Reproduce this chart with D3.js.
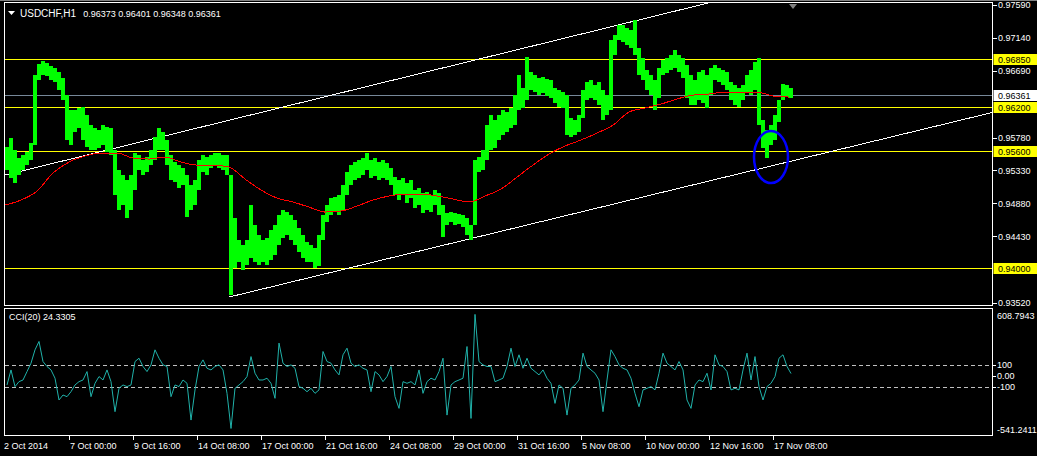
<!DOCTYPE html>
<html><head><meta charset="utf-8">
<script src="https://cdn.jsdelivr.net/npm/d3@7"></script>
<style>
html,body{margin:0;padding:0;background:#000;overflow:hidden}
svg{display:block}
text{font-family:"Liberation Sans",Arial,sans-serif;font-size:9px}
</style>
</head><body>
<svg id="c" width="1037" height="456"></svg>
<script>
// ---------- DATA ----------
const symbol = "USDCHF,H1";
const ohlc = [0.96373, 0.96401, 0.96348, 0.96361];
const barsPerBucket = 4;
const priceHigh = [
.95650,.95773,.95609,.95500,.95541,.95582,.95705,.96633,.96784,.96825,
.96797,.96756,.96729,.96674,.96593,.96360,.96155,.96155,.96183,.96196,
.96087,.95950,.95910,.95882,.95950,.95923,.95910,.95609,.95336,.95267,
.95200,.95267,.95568,.95541,.95472,.95513,.95609,.95787,.95910,.95855,
.95746,.95541,.95445,.95404,.95363,.95267,.95131,.95200,.95472,.95541,
.95513,.95541,.95568,.95568,.95541,.95541,.95267,.94680,.94380,.94311,
.94380,.94858,.94585,.94448,.94380,.94407,.94516,.94585,.94721,.94790,
.94762,.94721,.94653,.94543,.94448,.94352,.94311,.94270,.94448,.94721,
.94858,.94953,.94968,.94995,.95131,.95308,.95404,.95445,.95472,.95500,
.95568,.95472,.95500,.95445,.95472,.95431,.95363,.95240,.95200,.95227,
.95158,.95200,.95063,.95090,.95022,.95036,.94995,.95063,.95022,.94858,
.94748,.94762,.94748,.94735,.94721,.94680,.94585,.95472,.95513,.95609,
.95950,.96087,.96019,.96087,.96155,.96128,.96183,.96360,.96633,.96456,
.96879,.96674,.96633,.96593,.96606,.96579,.96565,.96456,.96429,.96401,
.96360,.96046,.96019,.96087,.96429,.96538,.96565,.96497,.96538,.96429,
.96360,.97112,.97180,.97317,.97317,.97276,.97248,.97385,.97002,.96866,
.96702,.96633,.96565,.96729,.96838,.96866,.96907,.96975,.96907,.96866,
.96770,.96633,.96565,.96674,.96702,.96633,.96729,.96770,.96729,.96702,
.96674,.96538,.96497,.96456,.96497,.96633,.96702,.96811,.96866,.96019,
.95882,.95950,.96087,.96292,.96511,.96497,.96456];
const priceLow = [
.95336,.95227,.95158,.95267,.95336,.95404,.95472,.95677,.96565,.96633,
.96620,.96565,.96538,.96429,.96292,.95746,.95677,.95855,.95910,.95746,
.95650,.95609,.95609,.95636,.95677,.95582,.95541,.94995,.94790,.94858,
.94680,.94790,.95063,.95336,.95267,.95308,.95404,.95472,.95609,.95609,
.95404,.95200,.95172,.95090,.95131,.94694,.94790,.94858,.95063,.95308,
.95267,.95363,.95404,.95363,.95336,.95267,.93628,.93997,.94079,.93970,
.94038,.94134,.94079,.94038,.94079,.94038,.94106,.94175,.94311,.94407,
.94448,.94380,.94311,.94216,.94134,.94079,.94079,.93997,.94024,.94380,
.94625,.94721,.94762,.94721,.94790,.94995,.95131,.95200,.95227,.95267,
.95336,.95227,.95254,.95200,.95227,.95200,.95131,.94995,.94926,.94995,
.94885,.94953,.94817,.94858,.94748,.94790,.94762,.94858,.94721,.94421,
.94585,.94625,.94585,.94598,.94557,.94448,.94380,.94585,.95308,.95336,
.95472,.95609,.95636,.95746,.95814,.95855,.95910,.95950,.96155,.96183,
.96292,.96429,.96401,.96360,.96388,.96347,.96319,.96251,.96196,.96183,
.95814,.95787,.95814,.95855,.96046,.96292,.96319,.96292,.96224,.96019,
.96087,.96155,.96907,.97112,.97084,.97043,.97002,.96907,.96633,.96565,
.96429,.96360,.96155,.96319,.96633,.96661,.96702,.96729,.96674,.96593,
.96319,.96224,.96224,.96292,.96251,.96183,.96360,.96565,.96538,.96497,
.96429,.96292,.96224,.96196,.96292,.96401,.96360,.96429,.95950,.95636,
.95500,.95677,.95746,.95991,.96292,.96333,.96319];
const maStep = 16;
const maValues = [
.94858,.94926,.95049,.95295,.95445,.95527,.95568,.95568,.95500,.95486,
.95513,.95445,.95404,.95404,.95377,.95213,.95063,.94953,.94899,.94830,
.94762,.94776,.94844,.94926,.94981,.95008,.95008,.94981,.94940,.94899,
.94981,.95076,.95240,.95404,.95554,.95664,.95746,.95841,.95950,.96128,
.96183,.96237,.96306,.96360,.96374,.96401,.96401,.96401,.96347,.96333];
const cciValues = [
-79,57,-94,-49,-34,42,118,239,315,133,
88,57,-18,-215,-170,-185,-140,-79,-49,-34,
42,-185,-64,-3,-34,57,-49,-321,-109,-79,
-94,-79,133,163,88,42,103,239,163,103,
88,-185,-79,-94,-34,-64,-397,-124,88,148,
72,57,88,103,57,-155,-473,-109,-79,-49,
-3,178,27,-34,-34,-18,-64,-200,300,118,
88,103,72,-94,-109,-140,-109,-155,-124,224,
133,118,57,12,194,254,118,88,103,72,
57,-140,42,12,-49,-3,88,-185,-291,-49,
-64,-49,-79,57,-155,-49,-18,-34,42,163,
-352,-79,-49,-34,-18,269,-382,560,133,103,
88,88,-49,-34,-18,88,254,88,194,72,
163,72,42,12,57,-18,-64,-246,-79,-109,
-352,-109,-79,-34,209,88,57,27,-34,-321,
-34,239,178,103,72,57,-18,-155,-276,-124,
-109,-94,-124,27,209,118,88,57,133,57,
-215,-291,-79,-34,-49,27,-124,194,103,88,
42,-124,-109,-124,57,209,-34,178,-94,-215,
-94,-64,-3,163,194,88,24.33];
const cciName = "CCI(20)";
const cciLast = "24.3305";
const cciMax = 608.7943, cciMin = -541.2411;
const cciLevels = [100, -100];
const cciAxisLabels = ["100", "0.00", "-100"];
const cciAxisValues = [100, 0, -100];
const priceMin = 0.93520, priceMax = 0.97590;
const priceTicks = [0.97590, 0.97140, 0.96690, 0.95780, 0.95330, 0.94880, 0.94430, 0.93520];
const levelLines = [0.96850, 0.96200, 0.95600, 0.94000];
const bidPrice = 0.96361;
const timeLabels = ["2 Oct 2014","7 Oct 00:00","9 Oct 16:00","14 Oct 08:00","17 Oct 00:00","21 Oct 16:00","24 Oct 08:00","29 Oct 00:00","31 Oct 16:00","5 Nov 08:00","10 Nov 00:00","12 Nov 16:00","17 Nov 08:00"];
const timeLabelBars = [0,64,128,192,256,320,384,448,512,576,640,704,768];
const trendUpper = [[0, 0.95267], [695, 0.97590]];
const trendLower = [[224, 0.93601], [988, 0.96124]];
const ellipseBars = [749, 783];
const ellipsePrices = [0.95869, 0.95158];
const visibleBars = 988;

// ---------- LAYOUT ----------
const L = 5, R = 993;
const mainTop = 3, mainBot = 305;
const subTop = 309, subBot = 436;

const svg = d3.select("#c");
svg.append("rect").attr("width",1037).attr("height",456).attr("fill","#000");
svg.append("line").attr("x1",0).attr("x2",1037).attr("y1",0.5).attr("y2",0.5).attr("stroke","#808080");

const x = d3.scaleLinear().domain([0, visibleBars]).range([L, R]);
const y = d3.scaleLinear().domain([priceMin, priceMax]).range([303, 5]);
const yc = d3.scaleLinear().domain([cciMin, cciMax]).range([subBot, subTop]);

const defs = svg.append("defs");
defs.append("clipPath").attr("id","mainClip").append("rect")
  .attr("x",L).attr("y",mainTop).attr("width",R-L).attr("height",mainBot-mainTop);
defs.append("clipPath").attr("id","subClip").append("rect")
  .attr("x",L).attr("y",subTop).attr("width",R-L).attr("height",subBot-subTop);

const main = svg.append("g").attr("clip-path","url(#mainClip)");

main.selectAll("line.lvl").data(levelLines).join("line")
  .attr("x1",L).attr("x2",R).attr("y1",d=>Math.round(y(d))+0.5).attr("y2",d=>Math.round(y(d))+0.5)
  .attr("stroke","#ffff00").attr("stroke-width",1);
main.append("line").attr("x1",L).attr("x2",R)
  .attr("y1",Math.round(y(bidPrice))+0.5).attr("y2",Math.round(y(bidPrice))+0.5)
  .attr("stroke","#778899").attr("stroke-width",1);

function ray(pts){
  const [a,b] = pts;
  const slope = (b[1]-a[1])/(b[0]-a[0]);
  const endBar = visibleBars + 5;
  return [[a[0], a[1]], [endBar, a[1] + slope*(endBar-a[0])]];
}
const tl = d3.line().x(d=>x(d[0])).y(d=>y(d[1]));
main.append("path").attr("d", tl(ray(trendUpper))).attr("fill","none")
  .attr("stroke","#fff").attr("stroke-width",1).attr("shape-rendering","crispEdges");
main.append("path").attr("d", tl(ray(trendLower))).attr("fill","none")
  .attr("stroke","#fff").attr("stroke-width",1).attr("shape-rendering","crispEdges");

main.selectAll("rect.bar").data(priceHigh.map((h,i)=>({h, l: priceLow[i], i}))).join("rect")
  .attr("x", d=>x(d.i*barsPerBucket))
  .attr("width", x(barsPerBucket)-x(0))
  .attr("y", d=>Math.round(y(d.h)))
  .attr("height", d=>Math.max(1, Math.round(y(d.l)-y(d.h))))
  .attr("fill","#00ff00").attr("shape-rendering","crispEdges");

const maLine = d3.line().x((d,i)=>x(i*maStep)).y(d=>y(d)).curve(d3.curveMonotoneX);
main.append("path").attr("d", maLine(maValues)).attr("fill","none")
  .attr("stroke","#ff0000").attr("stroke-width",1).attr("shape-rendering","crispEdges");

main.append("ellipse")
  .attr("cx",(x(ellipseBars[0])+x(ellipseBars[1]))/2)
  .attr("cy",(y(ellipsePrices[0])+y(ellipsePrices[1]))/2)
  .attr("rx",(x(ellipseBars[1])-x(ellipseBars[0]))/2)
  .attr("ry",(y(ellipsePrices[1])-y(ellipsePrices[0]))/2)
  .attr("fill","none").attr("stroke","#0000ff").attr("stroke-width",2.5);

const lastBar = priceHigh.length*barsPerBucket;
svg.append("path")
  .attr("d", `M${x(lastBar)-4},${mainTop+1}L${x(lastBar)+4},${mainTop+1}L${x(lastBar)},${mainTop+6}Z`)
  .attr("fill","#808080");

// header
svg.append("path").attr("d","M8,11L15,11L11.5,15Z").attr("fill","#fff");
const hdr = svg.append("text").attr("x",20).attr("y",16.5).attr("fill","#fff").attr("xml:space","preserve");
hdr.append("tspan").style("font-size","10px").text(symbol);
hdr.append("tspan").attr("dx",7).text(ohlc.map(v=>v.toFixed(5)).join(" "));

// sub pane
const sub = svg.append("g").attr("clip-path","url(#subClip)");
sub.selectAll("line.cl").data(cciLevels).join("line")
  .attr("x1",L).attr("x2",R).attr("y1",d=>Math.round(yc(d))+0.5).attr("y2",d=>Math.round(yc(d))+0.5)
  .attr("stroke","#c0c0c0").attr("stroke-dasharray","4,3").attr("stroke-width",1);
const cciLine = d3.line().x((d,i)=>x(i*barsPerBucket+2)).y(d=>yc(d));
sub.append("path").attr("d", cciLine(cciValues)).attr("fill","none")
  .attr("stroke","#20b2aa").attr("stroke-width",1);
svg.append("text").attr("x",9).attr("y",320).attr("fill","#fff")
  .text(cciName + " " + cciLast);

// pane borders
svg.append("rect").attr("x",L-0.5).attr("y",mainTop-0.5).attr("width",R-L).attr("height",mainBot-mainTop+1)
  .attr("fill","none").attr("stroke","#fff").attr("shape-rendering","crispEdges");
svg.append("rect").attr("x",L-0.5).attr("y",subTop-0.5).attr("width",R-L).attr("height",subBot-subTop)
  .attr("fill","none").attr("stroke","#fff").attr("shape-rendering","crispEdges");

// price axis
const pa = svg.append("g");
pa.selectAll("line").data(priceTicks).join("line")
  .attr("x1",R).attr("x2",R+4).attr("y1",d=>Math.round(y(d))+0.5).attr("y2",d=>Math.round(y(d))+0.5)
  .attr("stroke","#fff");
pa.selectAll("text").data(priceTicks).join("text")
  .attr("x",R+5).attr("y",d=>y(d)+3.3).attr("fill","#fff").text(d=>d.toFixed(5));
const lv = svg.append("g");
lv.selectAll("rect").data(levelLines).join("rect")
  .attr("x",R+0.5).attr("width",1037-R).attr("y",d=>Math.round(y(d))-5).attr("height",11)
  .attr("fill","#ffff00");
lv.selectAll("text").data(levelLines).join("text")
  .attr("x",R+5).attr("y",d=>Math.round(y(d))+3.5).attr("fill","#000").text(d=>d.toFixed(5));
svg.append("rect").attr("x",R+0.5).attr("width",1037-R).attr("y",Math.round(y(bidPrice))-5).attr("height",11).attr("fill","#fff");
svg.append("text").attr("x",R+5).attr("y",Math.round(y(bidPrice))+3.5).attr("fill","#000").text(bidPrice.toFixed(5));

// cci axis
const ca = svg.append("g");
ca.selectAll("line").data(cciAxisValues).join("line")
  .attr("x1",R).attr("x2",R+3).attr("y1",d=>Math.round(yc(d))+0.5).attr("y2",d=>Math.round(yc(d))+0.5)
  .attr("stroke","#fff");
ca.selectAll("text").data(cciAxisValues).join("text")
  .attr("x",R+4).attr("y",d=>yc(d)+2.5).attr("fill","#fff").text((d,i)=>cciAxisLabels[i]);
svg.append("text").attr("x",R+4).attr("y",yc(cciMax)+10).attr("fill","#fff").text(cciMax.toFixed(4));
svg.append("text").attr("x",R+4).attr("y",yc(cciMin)-3.5).attr("fill","#fff").text(cciMin.toFixed(4));

// time axis
const ta = svg.append("g");
ta.selectAll("line").data(timeLabelBars.slice(1)).join("line")
  .attr("x1",d=>Math.round(x(d))+0.5).attr("x2",d=>Math.round(x(d))+0.5)
  .attr("y1",subBot).attr("y2",subBot+4).attr("stroke","#fff");
ta.selectAll("text").data(timeLabels).join("text")
  .attr("x",(d,i)=> i===0 ? x(timeLabelBars[i]) - 1 : x(timeLabelBars[i]) + 1)
  .attr("y",449).attr("fill","#fff").text(d=>d);
</script>
</body></html>
